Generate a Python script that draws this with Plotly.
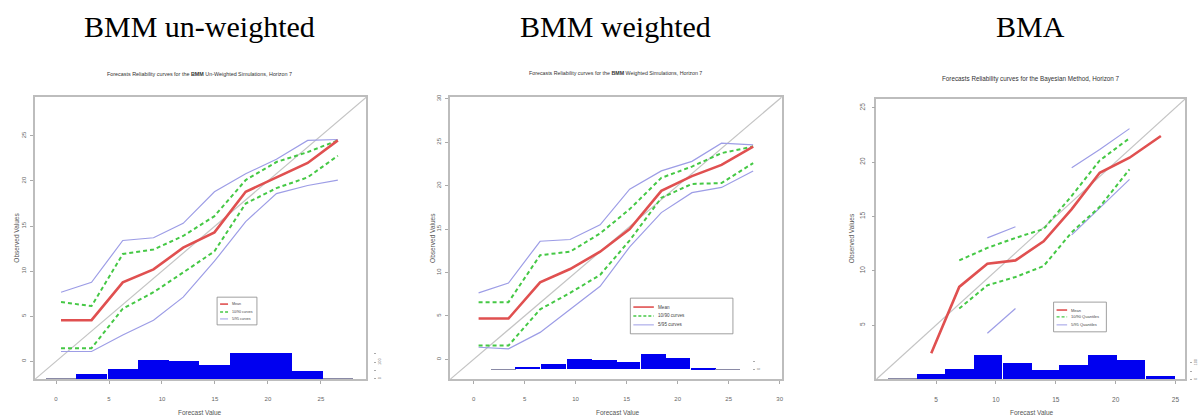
import numpy as np
import plotly.graph_objects as go

W, H = 1198, 418
nan = np.nan

# ---------------- data ----------------
headers = ["BMM un-weighted", "BMM weighted", "BMA"]
subtitles = [
    "Forecasts Reliability curves for the <b>BMM</b> Un-Weighted Simulations, Horizon 7",
    "Forecasts Reliability curves for the <b>BMM</b> Weighted Simulations, Horizon 7",
    "Forecasts Reliability curves for the Bayesian Method, Horizon 7",
]
x_titles = ["Forecast Value", "Forecast Value", "Forecast Value"]
y_titles = ["Observed Values", "Observed Values", "Observed Values"]
legend_names = [
    ["Mean", "10/90 curves", "5/95 curves"],
    ["Mean", "10/90 curves", "5/95 curves"],
    ["Mean", "10/90 Quantiles", "5/95 Quantiles"],
]

# Panel 1: BMM un-weighted
p1_x = [0.47, 3.35, 6.3, 9.2, 12.0, 14.95, 17.9, 20.8, 23.75, 26.6]
p1_mean = [4.56, 4.56, 8.76, 10.2, 12.6, 14.3, 18.8, 20.4, 22.0, 24.5]
p1_q10 = [1.46, 1.46, 5.84, 7.66, 9.85, 12.2, 17.5, 19.2, 20.4, 22.8]
p1_q90 = [6.57, 6.13, 11.9, 12.4, 13.9, 16.1, 20.1, 22.1, 23.2, 24.5]
p1_q05 = [1.09, 1.09, 2.92, 4.56, 7.12, 11.1, 15.5, 18.6, 19.5, 20.1]
p1_q95 = [7.66, 8.76, 13.4, 13.7, 15.3, 18.8, 20.8, 22.4, 24.5, 24.6]
p1_hist_x = [0.47, 3.35, 6.3, 9.2, 12.0, 14.95, 17.9, 20.8, 23.75, 26.6]
p1_counts = [2, 30, 56, 110, 106, 80, 156, 156, 44, 2]
p1_ticks = [0, 5, 10, 15, 20, 25]
p1_range = [-2.0, 29.3]

# Panel 2: BMM weighted
p2_x = [0.49, 3.42, 6.52, 9.46, 12.4, 15.3, 18.4, 21.4, 24.3, 27.4]
p2_mean = [4.70, 4.70, 8.86, 10.4, 12.4, 15.0, 19.4, 21.1, 22.4, 24.5]
p2_q10 = [1.59, 1.59, 5.76, 7.65, 9.73, 13.7, 18.6, 20.2, 20.3, 22.6]
p2_q90 = [6.59, 6.59, 12.0, 12.4, 14.5, 17.3, 20.9, 22.2, 23.75, 24.5]
p2_q05 = [1.40, 1.21, 3.11, 5.76, 8.41, 12.95, 16.9, 19.2, 19.8, 21.7]
p2_q95 = [7.65, 8.79, 13.6, 13.8, 15.5, 19.6, 21.7, 22.8, 24.9, 24.7]
p2_hist_x = [2.9, 5.3, 7.8, 10.4, 12.8, 15.1, 17.6, 20.0, 22.5, 24.9]
p2_counts = [2, 16, 30, 60, 54, 44, 96, 70, 8, 2]
p2_ticks = [0, 5, 10, 15, 20, 25, 30]
p2_range = [-2.3, 30.2]

# Panel 3: BMA
p3_x = [4.59, 6.93, 9.28, 11.63, 13.98, 16.33, 18.67, 21.16, 23.78]
p3_mean = [2.41, 8.51, 10.64, 10.95, 12.71, 15.67, 19.02, 20.4, 22.4]
p3_q10 = [nan, 6.52, 8.66, 9.42, 10.43, 13.54, 15.88, 19.33, nan]
p3_q90 = [nan, 10.95, 12.10, 13.02, 13.84, 16.89, 20.15, 22.2, nan]
p3_q05 = [nan, nan, 4.24, 6.52, nan, 13.3, 15.82, 18.41, nan]
p3_q95 = [nan, nan, 13.02, 14.05, nan, 19.48, 21.16, 23.08, nan]
p3_hist_x = [2.2, 4.6, 7.0, 9.35, 11.8, 14.2, 16.5, 18.9, 21.3, 23.8]
p3_counts = [2, 32, 64, 144, 100, 58, 84, 148, 114, 18]
p3_ticks = [5, 10, 15, 20, 25]
p3_range = [0.0, 25.8]

# ---------------- layout geometry (pixels) ----------------
boxes = [(35, 368, 95, 380), (452, 785, 95, 380), (880, 1190, 97, 380)]
hist_ranges = [[-4, 1706], [-60, 1650], [0, 1696]]
hist_axis_px = [375, 755, 1194]
header_cx = [200, 618, 1035]
header_y = 24
sub_y = [72, 71, 77]
sub_size = [5.4, 5.3, 6.3]
ytitle_x = [17, 435, 855]
xtitle_cx = [201, 621, 1036]
xtitle_y = 413
legend_boxes = [(218, 297, 258, 325), (633, 298, 736, 334), (1058, 302, 1111, 332)]
legend_rows = [(304, 312, 319), (307, 316, 325), (310, 317, 325)]
legend_font = [3.6, 4.6, 4.0]

RED = "#e05050"
GREEN = "#45c845"
BLUE = "#9d9de6"
HIST = "#0000f0"
GRAY = "#c4c4c4"


def fx(px):
    return px / W


def fy(py):
    return 1 - py / H


panels = [
    dict(x=p1_x, mean=p1_mean, q10=p1_q10, q90=p1_q90, q05=p1_q05, q95=p1_q95,
         hx=p1_hist_x, hc=p1_counts, ticks=p1_ticks, rng=p1_range),
    dict(x=p2_x, mean=p2_mean, q10=p2_q10, q90=p2_q90, q05=p2_q05, q95=p2_q95,
         hx=p2_hist_x, hc=p2_counts, ticks=p2_ticks, rng=p2_range),
    dict(x=p3_x, mean=p3_mean, q10=p3_q10, q90=p3_q90, q05=p3_q05, q95=p3_q95,
         hx=p3_hist_x, hc=p3_counts, ticks=p3_ticks, rng=p3_range),
]

fig = go.Figure()
annotations = []
shapes = []
layout = dict(
    width=W, height=H, margin=dict(l=0, r=0, t=0, b=0),
    paper_bgcolor="white", plot_bgcolor="white", showlegend=False,
    font=dict(family="Liberation Sans", color="#555"),
    barmode="overlay", bargap=0,
)

for i, p in enumerate(panels):
    n = i + 1
    xa = "x" if n == 1 else f"x{n}"
    ya = "y" if n == 1 else f"y{n}"
    ha = f"y{n + 3}"
    L, R, T, B = boxes[i]
    tick_font = dict(size=6 if i < 2 else 6.5, color="#666")
    common = dict(range=p["rng"], tickvals=p["ticks"], ticks="outside", ticklen=3,
                  tickcolor="#aaa", tickwidth=1, showgrid=False, zeroline=False,
                  showline=True, mirror=True, linecolor="#bdbdbd", linewidth=1.5,
                  tickfont=tick_font)
    layout["xaxis" if n == 1 else f"xaxis{n}"] = dict(
        domain=[fx(L), fx(R)], anchor=ya, ticklabelstandoff=10, **common)
    layout["yaxis" if n == 1 else f"yaxis{n}"] = dict(
        domain=[fy(B), fy(T)], anchor=xa, tickangle=-90,
        ticklabelstandoff=2 if i < 2 else 4, **common)
    hmax = max(p["hc"])
    layout[f"yaxis{n + 3}"] = dict(
        overlaying=ya, anchor="free", position=fx(hist_axis_px[i]), side="right",
        range=hist_ranges[i], tickvals=[0, 50, 100, 150][: 1 + int(hmax // 50)],
        ticktext=["0", "", "100", ""][: 1 + int(hmax // 50)],
        ticks="outside", ticklen=2, tickcolor="#aaa", tickangle=-90,
        tickfont=dict(size=4, color="#777"), showgrid=False, zeroline=False,
        showline=False)

    # identity diagonal
    fig.add_trace(go.Scatter(x=p["rng"], y=p["rng"], mode="lines",
                             line=dict(color=GRAY, width=1.2),
                             xaxis=xa, yaxis=ya, hoverinfo="skip"))
    names = legend_names[i]
    for key in ("q05", "q95"):
        fig.add_trace(go.Scatter(x=p["x"], y=p[key], mode="lines", name=names[2],
                                 line=dict(color=BLUE, width=1.2),
                                 xaxis=xa, yaxis=ya))
    for key in ("q10", "q90"):
        fig.add_trace(go.Scatter(x=p["x"], y=p[key], mode="lines", name=names[1],
                                 line=dict(color=GREEN, width=2, dash="4px,3px"),
                                 xaxis=xa, yaxis=ya))
    fig.add_trace(go.Scatter(x=p["x"], y=p["mean"], mode="lines", name=names[0],
                             line=dict(color=RED, width=2.6),
                             xaxis=xa, yaxis=ya))
    # histogram of forecasts
    hx = np.array(p["hx"])
    width = float(np.mean(np.diff(hx)))
    colors = ["#8a8aa6" if c < 5 else HIST for c in p["hc"]]
    fig.add_trace(go.Bar(x=hx, y=p["hc"], width=width, marker=dict(color=colors, line=dict(width=0)),
                         xaxis=xa, yaxis=ha, hoverinfo="skip"))

    # texts
    annotations.append(dict(text=headers[i], x=fx(header_cx[i]), y=fy(header_y), xref="paper", yref="paper",
                            showarrow=False, xanchor="center", yanchor="middle",
                            font=dict(family="Liberation Serif", size=30, color="black")))
    annotations.append(dict(text=subtitles[i], x=fx(header_cx[i]), y=fy(sub_y[i]), xref="paper",
                            yref="paper", showarrow=False, xanchor="center", yanchor="middle",
                            font=dict(size=sub_size[i], color="#333")))
    annotations.append(dict(text=y_titles[i], x=fx(ytitle_x[i]), y=fy(237), xref="paper", yref="paper",
                            showarrow=False, textangle=-90, xanchor="center", yanchor="middle",
                            font=dict(size=6.5, color="#555")))
    annotations.append(dict(text=x_titles[i], x=fx(xtitle_cx[i]), y=fy(xtitle_y), xref="paper", yref="paper",
                            showarrow=False, xanchor="center", yanchor="middle",
                            font=dict(size=6.5, color="#555")))

    # legend box
    lx0, ly0, lx1, ly1 = legend_boxes[i]
    shapes.append(dict(type="rect", xref="paper", yref="paper", x0=fx(lx0), x1=fx(lx1),
                       y0=fy(ly1), y1=fy(ly0), line=dict(color="#888", width=0.8),
                       fillcolor="white", layer="above"))
    seg = (lx1 - lx0) * 0.2
    styles = [dict(color=RED, width=1.6), dict(color=GREEN, width=1.3, dash="3px,2px"),
              dict(color=BLUE, width=1)]
    for k in range(3):
        yy = fy(legend_rows[i][k])
        shapes.append(dict(type="line", xref="paper", yref="paper",
                           x0=fx(lx0 + 3), x1=fx(lx0 + 3 + seg), y0=yy, y1=yy,
                           line=styles[k], layer="above"))
        annotations.append(dict(text=names[k], x=fx(lx0 + 5 + seg), y=yy, xref="paper", yref="paper",
                                showarrow=False, xanchor="left", yanchor="middle",
                                font=dict(size=legend_font[i], color="#444")))

layout["annotations"] = annotations
layout["shapes"] = shapes
fig.update_layout(**layout)
fig.write_html("out.html", config={"displayModeBar": False},
               post_script="document.body.style.margin='0px';document.body.style.overflow='hidden';")
